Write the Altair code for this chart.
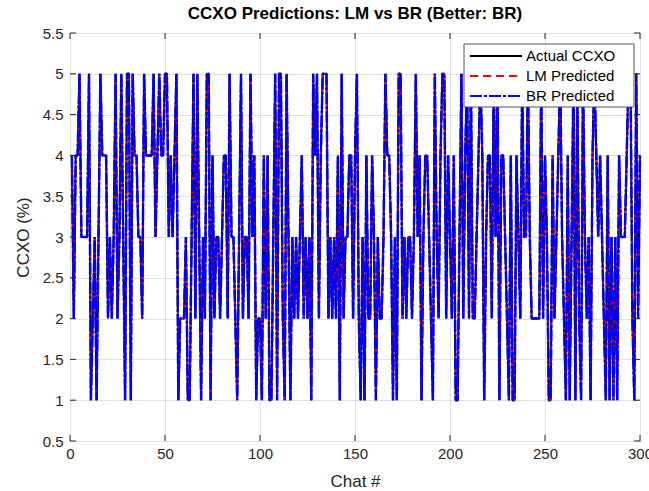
import altair as alt
import pandas as pd

# Chat index (1-based) and CCXO scores
chat = list(range(1, 301))
actual_ccxo = [
    4, 2, 4, 4, 5, 3, 3, 3, 3, 5,
    1, 2, 3, 1, 3, 5, 4, 4, 4, 2,
    3, 2, 3, 5, 2, 3, 5, 3, 1, 5,
    5, 1, 5, 4, 4, 3, 3, 2, 5, 4,
    4, 4, 4, 5, 3, 4, 5, 4, 4, 5,
    5, 3, 4, 3, 4, 5, 1, 2, 2, 2,
    3, 1, 1, 3, 5, 2, 5, 3, 1, 3,
    2, 5, 5, 1, 4, 2, 3, 3, 2, 3,
    4, 4, 2, 5, 3, 3, 2, 1, 3, 5,
    2, 3, 3, 2, 5, 3, 4, 1, 2, 2,
    1, 4, 2, 4, 1, 1, 3, 5, 1, 5,
    5, 2, 1, 5, 3, 1, 3, 2, 3, 2,
    3, 4, 2, 3, 2, 3, 1, 5, 4, 5,
    2, 4, 5, 5, 5, 2, 3, 2, 3, 2,
    4, 1, 5, 2, 3, 3, 4, 4, 2, 4,
    5, 2, 1, 3, 1, 4, 2, 2, 4, 3,
    1, 3, 2, 2, 3, 5, 4, 4, 3, 1,
    3, 1, 5, 5, 2, 3, 2, 3, 3, 2,
    3, 5, 3, 4, 1, 3, 4, 4, 3, 2,
    1, 5, 3, 2, 4, 5, 5, 2, 4, 3,
    2, 4, 1, 1, 3, 5, 2, 4, 5, 2,
    5, 2, 2, 3, 4, 5, 4, 1, 3, 4,
    4, 2, 5, 3, 5, 1, 4, 4, 3, 2,
    1, 4, 1, 1, 4, 3, 2, 5, 3, 3,
    5, 3, 2, 2, 2, 2, 2, 5, 2, 4,
    3, 1, 1, 4, 2, 3, 4, 5, 3, 2,
    1, 4, 1, 3, 5, 1, 5, 2, 1, 5,
    3, 2, 3, 1, 4, 5, 4, 3, 4, 3,
    2, 1, 4, 1, 3, 1, 3, 1, 4, 3,
    3, 3, 4, 5, 5, 2, 1, 5, 2, 4,
]
# Both models reproduce the rounded scores for every chat
lm_predicted = list(actual_ccxo)
br_predicted = list(actual_ccxo)

series_names = ["Actual CCXO", "LM Predicted", "BR Predicted"]
series_colors = ["#000000", "#ff0000", "#0000ff"]
series_dashes = [[1, 0], [8, 5], [12, 2, 3, 2]]
series_widths = [2, 1.5, 2.5]

x_ticks = [0, 50, 100, 150, 200, 250, 300]
y_ticks = [0.5, 1, 1.5, 2, 2.5, 3, 3.5, 4, 4.5, 5, 5.5]

W, H = 570, 408
FONT = "Liberation Sans"
INK = "#262626"
TICK_LEN = 6

# Legend box geometry (pixels inside the plot area)
LEG_X0, LEG_X1 = 394, 564
LEG_Y0, LEG_Y1 = 11, 74
LEG_ROW0, LEG_ROW_STEP = 23, 20
LEG_SYM_X0, LEG_SYM_X1, LEG_TEXT_X = 400, 452, 456

x_enc = alt.X(
    "chat:Q",
    scale=alt.Scale(domain=[0, 300], nice=False, zero=False),
    axis=alt.Axis(values=x_ticks, title="Chat #", labelPadding=5,
                  titlePadding=12, labelFlush=False, labelOverlap=False),
)
y_enc = alt.Y(
    "ccxo:Q",
    scale=alt.Scale(domain=[0.5, 5.5], nice=False, zero=False),
    axis=alt.Axis(values=y_ticks, format="~g", title="CCXO (%)",
                  labelPadding=7, titlePadding=10, labelFlush=False,
                  labelOverlap=False),
)


def series_layer(idx, values):
    frame = pd.DataFrame({"chat": chat, "ccxo": values})
    return alt.Chart(frame).mark_line(
        strokeWidth=series_widths[idx],
        strokeJoin="bevel",
        color=series_colors[idx],
        strokeDash=series_dashes[idx],
    ).encode(x=x_enc, y=y_enc)


lines = [
    series_layer(0, actual_ccxo),
    series_layer(1, lm_predicted),
    series_layer(2, br_predicted),
]

# Inward-pointing tick marks on all four sides of the box
xt = pd.DataFrame({"chat": x_ticks})
yt = pd.DataFrame({"ccxo": y_ticks})
tick_style = dict(color=INK, strokeWidth=1)
ticks_bottom = alt.Chart(xt).mark_rule(**tick_style).encode(
    x=x_enc, y=alt.value(H), y2=alt.value(H - TICK_LEN))
ticks_top = alt.Chart(xt).mark_rule(**tick_style).encode(
    x=x_enc, y=alt.value(0), y2=alt.value(TICK_LEN))
ticks_left = alt.Chart(yt).mark_rule(**tick_style).encode(
    y=y_enc, x=alt.value(0), x2=alt.value(TICK_LEN))
ticks_right = alt.Chart(yt).mark_rule(**tick_style).encode(
    y=y_enc, x=alt.value(W), x2=alt.value(W - TICK_LEN))

# Legend: framed white box with one sample line and label per series
one = pd.DataFrame({"k": [0]})
legend_box = alt.Chart(one).mark_rect(
    fill="white", stroke="#555555", strokeWidth=1
).encode(
    x=alt.value(LEG_X0), x2=alt.value(LEG_X1),
    y=alt.value(LEG_Y0), y2=alt.value(LEG_Y1),
)
legend_parts = []
for i, name in enumerate(series_names):
    yy = LEG_ROW0 + LEG_ROW_STEP * i
    legend_parts.append(
        alt.Chart(one).mark_rule(
            color=series_colors[i], strokeWidth=2, strokeDash=series_dashes[i]
        ).encode(
            x=alt.value(LEG_SYM_X0), x2=alt.value(LEG_SYM_X1),
            y=alt.value(yy), y2=alt.value(yy),
        )
    )
    legend_parts.append(
        alt.Chart(one).mark_text(
            text=name, align="left", baseline="middle",
            font=FONT, fontSize=15, color="#000000",
        ).encode(x=alt.value(LEG_TEXT_X), y=alt.value(yy))
    )

chart = (
    alt.layer(*lines, ticks_bottom, ticks_top, ticks_left, ticks_right,
              legend_box, *legend_parts)
    .properties(
        width=W,
        height=H,
        autosize=alt.AutoSizeParams(type="none"),
        padding={"left": 70, "top": 33, "right": 9, "bottom": 50},
        background="white",
        title=alt.Title(
            "CCXO Predictions: LM vs BR (Better: BR)",
            font=FONT,
            fontSize=17,
            fontWeight="bold",
            color="#000000",
            anchor="middle",
            offset=3,
        ),
    )
    .configure_view(stroke=INK, strokeWidth=1)
    .configure_axis(
        labelFont=FONT,
        labelFontSize=15,
        labelColor=INK,
        titleFont=FONT,
        titleFontSize=17,
        titleFontWeight="normal",
        titleColor=INK,
        grid=True,
        gridColor="#dfdfdf",
        gridWidth=1,
        ticks=False,
        domain=False,
    )
)

chart.save("out.html", embed_options={"renderer": "svg", "actions": False})
